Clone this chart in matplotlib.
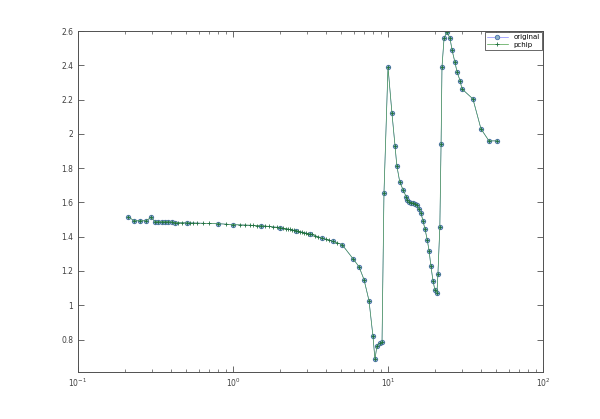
import matplotlib
matplotlib.use('Agg')
import matplotlib.pyplot as plt
import numpy as np
from matplotlib.ticker import LogLocator, FixedLocator

# original samples (x on log axis)
orig_x = [0.210, 0.230, 0.251, 0.275, 0.296, 0.314, 0.328, 0.348, 0.364, 0.381,
          0.404, 0.423, 0.505, 0.80, 1.0, 1.52, 2.01, 2.55, 3.14, 3.75,
          4.42, 5.05, 5.94, 6.50, 7.00, 7.54, 8.00, 8.24, 8.49, 8.88,
          9.15, 9.42, 10.0, 10.6, 11.1, 11.4, 11.9, 12.5, 13.1, 13.3,
          13.7, 14.1, 14.5, 14.9, 15.4, 15.8, 16.3, 16.8, 17.3, 17.9,
          18.4, 18.9, 19.5, 20.1, 20.7, 21.0, 21.6, 22.0, 22.3, 23.0,
          24.0, 25.1, 25.9, 27.0, 27.9, 29.2, 30.0, 35.3, 39.8, 44.8, 50.5]
orig_y = [1.517, 1.493, 1.493, 1.493, 1.512, 1.488, 1.488, 1.488, 1.488, 1.488,
          1.486, 1.482, 1.481, 1.476, 1.470, 1.464, 1.453, 1.435, 1.416, 1.392,
          1.372, 1.354, 1.272, 1.225, 1.150, 1.027, 0.818, 0.684, 0.765, 0.777,
          0.783, 1.656, 2.390, 2.122, 1.930, 1.814, 1.721, 1.674, 1.633, 1.616,
          1.604, 1.598, 1.598, 1.592, 1.587, 1.563, 1.540, 1.493, 1.447, 1.383,
          1.319, 1.231, 1.144, 1.086, 1.074, 1.185, 1.458, 1.942, 2.390, 2.559,
          2.594, 2.559, 2.489, 2.419, 2.361, 2.309, 2.262, 2.204, 2.029, 1.959, 1.959]

# extra pchip evaluation points (between the samples)
extra_x = [0.442, 0.469, 0.528, 0.552, 0.586, 0.640, 0.700, 0.902, 1.11, 1.19,
           1.29, 1.35, 1.43, 1.61, 1.71, 1.81, 1.92, 2.10, 2.20, 2.26,
           2.33, 2.40, 2.48, 2.63, 2.71, 2.79, 2.87, 2.96, 3.05, 3.24,
           3.38, 3.53, 3.98, 4.16, 4.69]
extra_y = [1.482, 1.481, 1.480, 1.480, 1.479, 1.478, 1.477, 1.473, 1.469, 1.468,
           1.467, 1.466, 1.465, 1.462, 1.460, 1.457, 1.455, 1.450, 1.447, 1.445,
           1.442, 1.440, 1.437, 1.432, 1.429, 1.426, 1.423, 1.420, 1.418, 1.413,
           1.406, 1.400, 1.385, 1.380, 1.365]

pchip_x = np.concatenate([orig_x, extra_x])
pchip_y = np.concatenate([orig_y, extra_y])
order = np.argsort(pchip_x)
pchip_x = pchip_x[order]
pchip_y = pchip_y[order]

plt.rcParams['font.family'] = ['DejaVu Sans']
fig = plt.figure(figsize=(6, 4.19), dpi=100)
ax = fig.add_axes([0.13, 0.112, 0.775, 0.814])

ax.semilogx(orig_x, orig_y, 'o-', color='#6a6aff', markersize=3.2,
            markerfacecolor='#8fb4c8', markeredgecolor='#4a70a8',
            markeredgewidth=0.6, linewidth=0.4, label='original')
ax.semilogx(pchip_x, pchip_y, '+-', color='#4a9f4a', markersize=3.2,
            markeredgewidth=0.6, markeredgecolor='#1f6f3f',
            linewidth=0.5, label='pchip')

ax.set_xlim(0.1, 100)
ax.set_ylim(0.61, 2.6)
ax.yaxis.set_major_locator(FixedLocator([0.8, 1.0, 1.2, 1.4, 1.6, 1.8, 2.0, 2.2, 2.4, 2.6]))
ax.set_yticklabels(['0.8', '1', '1.2', '1.4', '1.6', '1.8', '2', '2.2', '2.4', '2.6'])
ax.xaxis.set_major_locator(LogLocator(base=10, numticks=10))
ax.xaxis.set_minor_locator(LogLocator(base=10, subs=np.arange(2, 10), numticks=20))

ax.tick_params(which='both', direction='in', top=True, right=True,
               labelsize=5.5, colors='#505050', labelcolor='#404040')
ax.tick_params(which='major', length=4, width=0.6)
ax.tick_params(which='minor', length=2.5, width=0.5)
for s in ax.spines.values():
    s.set_color('#505050')
    s.set_linewidth(0.7)

leg = ax.legend(loc='upper right', fontsize=5, fancybox=False, framealpha=1,
                edgecolor='#505050', borderpad=0.3, handlelength=3,
                labelspacing=0.2, borderaxespad=0.2)
leg.get_frame().set_linewidth(0.6)

fig.savefig('out.png', dpi=100)
